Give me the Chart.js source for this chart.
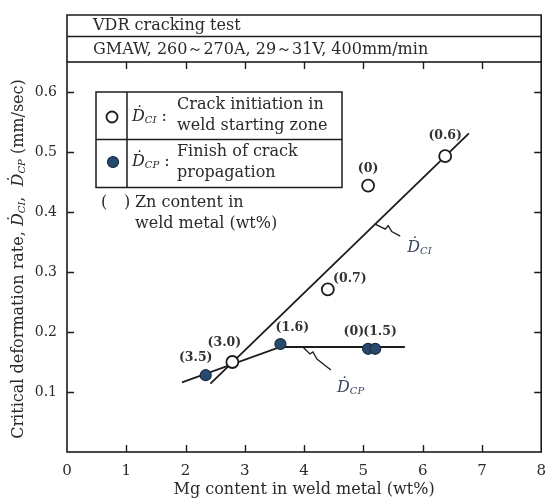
<!DOCTYPE html>
<html>
<head>
<meta charset="utf-8">
<script src="https://cdn.jsdelivr.net/npm/chart.js@4/dist/chart.umd.min.js"></script>
<style>
  html, body { margin: 0; padding: 0; background: #fff; }
  #wrap { width: 549px; height: 498px; }
</style>
</head>
<body>
<div id="wrap"><canvas id="c" width="549" height="498"></canvas></div>
<script>
// ---- data -------------------------------------------------------------
const mgTicks = [0, 1, 2, 3, 4, 5, 6, 7, 8];
const rateTicks = [0.1, 0.2, 0.3, 0.4, 0.5, 0.6];

// D_CI : crack initiation in weld starting zone (open circles)
const ciMg = [2.79, 4.40, 5.08, 6.38];
const ciRate = [0.150, 0.271, 0.444, 0.493];
const ciZn = ['(3.0)', '(0.7)', '(0)', '(0.6)'];

// D_CP : finish of crack propagation (filled circles)
const cpMg = [2.34, 3.60, 5.08, 5.20];
const cpRate = [0.128, 0.180, 0.172, 0.172];
const cpZn = ['(3.5)', '(1.6)', '(0)', '(1.5)'];

// fitted trend lines
const ciLineMg = [2.42, 6.78];
const ciLineRate = [0.114, 0.531];
const cpLineMg = [1.94, 3.60, 5.70];
const cpLineRate = [0.116, 0.175, 0.175];

// ---- styling ----------------------------------------------------------
const FONT = '"DejaVu Serif", "Liberation Serif", serif';
const INK = '#2a2a2a';
const LINE = '#1c1c1c';
const BLUE_FILL = '#27496c';
const BLUE_EDGE = '#1a2c40';
const NOTE = '#3a4866';

// where each Zn label sits relative to its point: [dx, dy, align]
const ciLabelPlace = [[-8, -19, 'center'], [22, -11, 'center'], [0, -17, 'center'], [0, -20, 'center']];
const cpLabelPlace = [[-10, -17, 'center'], [12, -16, 'center'], [-4, -17, 'right'], [-12, -17, 'left']];

const pts = (xs, ys) => xs.map((x, i) => ({ x, y: ys[i] }));

function rateOnLine(xs, ys, x) {
  for (let i = 0; i < xs.length - 1; i++) {
    if (x >= xs[i] && x <= xs[i + 1]) {
      return ys[i] + (ys[i + 1] - ys[i]) * (x - xs[i]) / (xs[i + 1] - xs[i]);
    }
  }
  return ys[ys.length - 1];
}

// draw a run of text pieces (main text, italic symbols, subscripts) from a left baseline
function richSegs(ctx, segs) {
  let w = 0;
  segs.forEach(s => { ctx.font = s.font; w += ctx.measureText(s.t).width; });
  return w;
}
function drawRich(ctx, segs, x, y) {
  let cx = x;
  segs.forEach(s => {
    ctx.font = s.font;
    ctx.fillStyle = s.color || INK;
    ctx.fillText(s.t, cx, y + (s.dy || 0));
    cx += ctx.measureText(s.t).width;
  });
}
const rm = sz => `${sz}px ${FONT}`;
const it = sz => `italic ${sz}px ${FONT}`;
const dSym = (sub, sz, subSz, color) => [
  { t: 'Ḋ', font: it(sz), color },
  { t: sub, font: it(subSz), dy: 3, color }
];

// ---- plugin: frame, inward ticks, header, titles, legend, notes -------
const decor = {
  id: 'decor',
  beforeDatasetsDraw(chart) {
    const { ctx, chartArea: a, scales: { x, y } } = chart;
    ctx.save();
    ctx.strokeStyle = LINE;
    ctx.lineWidth = 1.6;
    // plot frame
    ctx.strokeRect(a.left, a.top, a.right - a.left, a.bottom - a.top);
    // header box with two rows
    const hTop = 15, hMid = 36.5;
    ctx.beginPath();
    ctx.moveTo(a.left, a.top); ctx.lineTo(a.left, hTop); ctx.lineTo(a.right, hTop); ctx.lineTo(a.right, a.top);
    ctx.moveTo(a.left, hMid); ctx.lineTo(a.right, hMid);
    ctx.stroke();
    // inward ticks on all four sides
    ctx.lineWidth = 1.4;
    const tl = 7;
    ctx.beginPath();
    mgTicks.forEach(v => {
      if (v <= x.min || v >= x.max) return;
      const p = Math.round(x.getPixelForValue(v)) + 0.5;
      ctx.moveTo(p, a.bottom); ctx.lineTo(p, a.bottom - tl);
      ctx.moveTo(p, a.top); ctx.lineTo(p, a.top + tl);
    });
    rateTicks.forEach(v => {
      const p = Math.round(y.getPixelForValue(v)) + 0.5;
      ctx.moveTo(a.left, p); ctx.lineTo(a.left + tl, p);
      ctx.moveTo(a.right, p); ctx.lineTo(a.right - tl, p);
    });
    ctx.stroke();

    // header texts
    ctx.fillStyle = INK;
    ctx.textBaseline = 'middle';
    ctx.textAlign = 'left';
    ctx.font = rm(16);
    ctx.fillText('VDR cracking test', 93, 26);
    ctx.fillText('GMAW, 260～270A, 29～31V, 400mm/min', 93, 50);

    // y axis title (rotated, rich text)
    const ySegs = [
      { t: 'Critical deformation rate, ', font: rm(16) },
      ...dSym('CI', 16, 10),
      { t: ',  ', font: rm(16) },
      ...dSym('CP', 16, 10),
      { t: ' (mm/sec)', font: rm(16) }
    ];
    ctx.save();
    ctx.translate(19, (a.top + a.bottom) / 2 + 2);
    ctx.rotate(-Math.PI / 2);
    ctx.textBaseline = 'middle';
    const yw = richSegs(ctx, ySegs);
    drawRich(ctx, ySegs, -yw / 2, 0);
    ctx.restore();

    // legend box
    const L = { l: 96, r: 342, t: 92, m: 139.5, b: 187.5, v: 127 };
    ctx.lineWidth = 1.5;
    ctx.strokeStyle = LINE;
    ctx.beginPath();
    ctx.rect(L.l, L.t, L.r - L.l, L.b - L.t);
    ctx.moveTo(L.l, L.m); ctx.lineTo(L.r, L.m);
    ctx.moveTo(L.v, L.t); ctx.lineTo(L.v, L.b);
    ctx.stroke();
    // legend markers
    ctx.beginPath();
    ctx.arc(112, 117, 5.5, 0, Math.PI * 2);
    ctx.fillStyle = '#fff'; ctx.fill();
    ctx.lineWidth = 1.8; ctx.strokeStyle = LINE; ctx.stroke();
    ctx.beginPath();
    ctx.arc(113, 162, 5.5, 0, Math.PI * 2);
    ctx.fillStyle = BLUE_FILL; ctx.fill();
    ctx.lineWidth = 1.2; ctx.strokeStyle = BLUE_EDGE; ctx.stroke();
    // legend texts
    ctx.textBaseline = 'middle';
    drawRich(ctx, [...dSym('CI', 16, 10), { t: ' :', font: rm(16) }], 132, 117);
    drawRich(ctx, [...dSym('CP', 16, 10), { t: ' :', font: rm(16) }], 132, 162);
    ctx.fillStyle = INK;
    ctx.font = rm(16);
    ctx.fillText('Crack initiation in', 177, 105);
    ctx.fillText('weld starting zone', 177, 126);
    ctx.fillText('Finish of crack', 177, 152);
    ctx.fillText('propagation', 177, 173);
    ctx.fillText('(', 101, 203);
    ctx.fillText(')', 124, 203);
    ctx.fillText('Zn content in', 135, 203);
    ctx.fillText('weld metal (wt%)', 135, 224);
    ctx.restore();
  },
  afterDatasetsDraw(chart) {
    const { ctx, scales: { x, y } } = chart;
    ctx.save();
    // Zn content labels
    ctx.font = `bold 12.5px ${FONT}`;
    ctx.fillStyle = '#333';
    ctx.textBaseline = 'middle';
    const put = (xs, ys, labels, place) => labels.forEach((s, i) => {
      const [dx, dy, al] = place[i];
      ctx.textAlign = al;
      ctx.fillText(s, x.getPixelForValue(xs[i]) + dx, y.getPixelForValue(ys[i]) + dy);
    });
    put(ciMg, ciRate, ciZn, ciLabelPlace);
    put(cpMg, cpRate, cpZn, cpLabelPlace);

    // leader marks from each trend line to its symbol
    const leader = (mg, xs, ys, path, segs, tx, ty) => {
      const ox = x.getPixelForValue(mg);
      const oy = y.getPixelForValue(rateOnLine(xs, ys, mg));
      ctx.beginPath();
      ctx.moveTo(ox, oy);
      path.forEach(([dx, dy]) => ctx.lineTo(ox + dx, oy + dy));
      ctx.strokeStyle = LINE;
      ctx.lineWidth = 1.3;
      ctx.stroke();
      ctx.textAlign = 'left';
      ctx.textBaseline = 'middle';
      drawRich(ctx, segs, ox + tx, oy + ty);
    };
    leader(5.20, ciLineMg, ciLineRate,
      [[10, 5], [13, 1.5], [16.5, 7.5], [25, 12]],
      dSym('CI', 16, 10, NOTE), 32, 24);
    leader(3.98, cpLineMg, cpLineRate,
      [[7, 7], [10, 5], [14, 12], [28, 23]],
      dSym('CP', 16, 10, NOTE), 34, 41);
    ctx.restore();
  }
};

// ---- chart ------------------------------------------------------------
new Chart(document.getElementById('c'), {
  type: 'scatter',
  data: {
    datasets: [
      {
        label: 'D_CI',
        data: pts(ciMg, ciRate),
        pointRadius: 6, pointHoverRadius: 6,
        pointBackgroundColor: '#fff', pointBorderColor: LINE, pointBorderWidth: 1.8,
        order: 1
      },
      {
        label: 'D_CP',
        data: pts(cpMg, cpRate),
        pointRadius: 5.5, pointHoverRadius: 5.5,
        pointBackgroundColor: BLUE_FILL, pointBorderColor: BLUE_EDGE, pointBorderWidth: 1.2,
        order: 2
      },
      {
        label: 'D_CI trend',
        data: pts(ciLineMg, ciLineRate),
        showLine: true, pointRadius: 0, borderColor: LINE, borderWidth: 1.8,
        order: 3
      },
      {
        label: 'D_CP trend',
        data: pts(cpLineMg, cpLineRate),
        showLine: true, pointRadius: 0, borderColor: LINE, borderWidth: 1.8,
        order: 4
      }
    ]
  },
  options: {
    responsive: false,
    animation: false,
    events: [],
    layout: { padding: { top: 62, right: -2, left: 0, bottom: 0 } },
    plugins: { legend: { display: false }, tooltip: { enabled: false }, title: { display: false } },
    scales: {
      x: {
        type: 'linear', min: 0, max: 8,
        afterBuildTicks: s => { s.ticks = mgTicks.map(v => ({ value: v })); },
        afterFit: s => { s.height = 46; s.paddingLeft = 0; s.paddingRight = 0; },
        grid: { display: false, drawTicks: false },
        border: { display: false },
        ticks: { padding: 10, color: INK, font: { family: FONT, size: 15 }, maxRotation: 0 },
        title: {
          display: true, text: 'Mg content in weld metal (wt%)',
          color: INK, font: { family: FONT, size: 16, lineHeight: 1 }, padding: { top: 0, bottom: 0 }
        }
      },
      y: {
        type: 'linear', min: 0, max: 0.65,
        afterBuildTicks: s => { s.ticks = rateTicks.map(v => ({ value: v })); },
        afterFit: s => { s.width = 67; s.paddingTop = 0; s.paddingBottom = 0; },
        grid: { display: false, drawTicks: false },
        border: { display: false },
        ticks: { padding: 10, color: INK, font: { family: FONT, size: 14 }, callback: v => v.toFixed(1) }
      }
    }
  },
  plugins: [decor]
});
</script>
</body>
</html>
